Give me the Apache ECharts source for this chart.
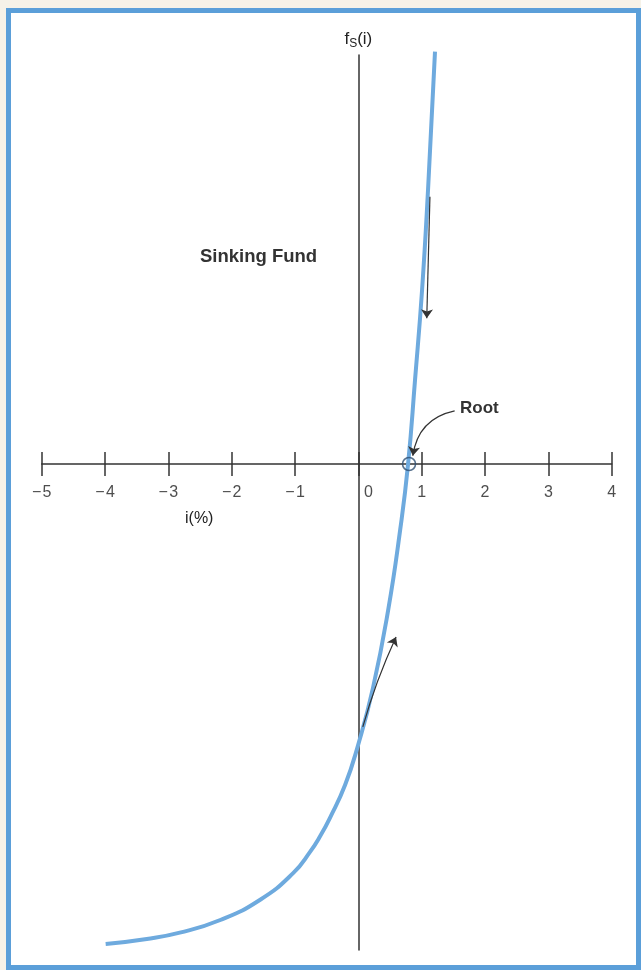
<!DOCTYPE html>
<html>
<head>
<meta charset="utf-8">
<script src="https://cdn.jsdelivr.net/npm/echarts@6/dist/echarts.min.js"></script>
<style>
  html, body { margin: 0; padding: 0; width: 641px; height: 970px; background: #f6f2e8; overflow: hidden; }
  #frame { position: absolute; left: 6px; top: 8px; width: 625px; height: 952px; border: 5px solid #5b9fd9; background: #ffffff; }
  #chart { position: absolute; left: 0; top: 0; width: 641px; height: 970px; }
</style>
</head>
<body>
<div id="frame"></div>
<div id="chart"></div>
<script>
// Sinking fund curve f_S(i) (i in %, f in arbitrary units)
const iValues = [-3.99, -3.34, -2.82, -2.18, -1.55, -1.03, -0.76, -0.60, -0.45, -0.21, -0.005, 0.23, 0.47, 0.66, 0.785, 0.895, 1.006, 1.10, 1.21];
const fValues = [-7.58, -7.50, -7.40, -7.20, -6.88, -6.46, -6.12, -5.87, -5.59, -5.07, -4.44, -3.54, -2.31, -1.04, 0.00, 1.33, 2.75, 4.33, 6.51];
const xTicks = [-5, -4, -3, -2, -1, 0, 1, 2, 3, 4];
const xTickLabels = ['\u2212\u200A5', '\u2212\u200A4', '\u2212\u200A3', '\u2212\u200A2', '\u2212\u200A1', '0', '1', '2', '3', '4'];
const root = [0.80, 0];
// annotation arrows: [start, end]
const arrowDown = [[1.13, 4.22], [1.08, 2.30]];
const arrowUp = [[0.07, -4.15], [0.595, -2.73]];
const arrowRoot = [[1.52, 0.84], [0.86, 0.13]];

const curve = iValues.map((v, k) => [v, fValues[k]]);
const chart = echarts.init(document.getElementById('chart'), null, { renderer: 'canvas' });
const axisColor = '#333333';
const textColor = '#222222';
const fontFam = '"Liberation Sans", Arial, Helvetica, sans-serif';

chart.setOption({
  animation: false,
  backgroundColor: 'transparent',
  grid: { left: 41.7, right: 29.3, top: 55, bottom: 20, containLabel: false, outerBoundsMode: 'none' },
  xAxis: {
    type: 'value', min: -5, max: 4, interval: 1,
    splitLine: { show: false },
    axisLine: { show: true, onZero: true, lineStyle: { color: axisColor, width: 1.5 } },
    axisTick: { show: false },
    axisLabel: { show: false }
  },
  yAxis: {
    type: 'value', min: -7.674, max: 6.458,
    splitLine: { show: false }, axisTick: { show: false }, axisLabel: { show: false },
    axisLine: { show: true, onZero: true, lineStyle: { color: axisColor, width: 1.5 } },
    name: '{a|f}{b|S}{a|(i)}', nameLocation: 'end', nameGap: 5,
    nameTextStyle: {
      rich: {
        a: { fontSize: 17, color: textColor, fontFamily: fontFam },
        b: { fontSize: 12, color: textColor, fontFamily: fontFam, padding: [9, 0, 0, 0] }
      }
    }
  },
  graphic: [
    { type: 'text', left: 200, top: 247, style: { text: 'Sinking Fund', fontSize: 18.5, fontWeight: 'bold', fill: '#333', fontFamily: fontFam } },
    { type: 'text', left: 185, top: 511, style: { text: 'i(%)', fontSize: 16, fill: textColor, fontFamily: fontFam } },
    { type: 'text', left: 460, top: 400, style: { text: 'Root', fontSize: 17, fontWeight: 'bold', fill: '#333', fontFamily: fontFam } }
  ],
  series: [
    {
      type: 'line', data: curve, smooth: 0.5, showSymbol: false, clip: false,
      lineStyle: { color: '#6eaade', width: 4 }, z: 3,
      markLine: {
        silent: true, symbol: ['none', 'none'], animation: false,
        label: { show: false },
        lineStyle: { color: axisColor, width: 1.5, type: 'solid' },
        data: xTicks.map(v => [{ coord: [v, -0.19] }, { coord: [v, 0.19] }])
      }
    },
    {
      // tick labels placed under each tick of the horizontal axis
      type: 'scatter', symbolSize: 0, silent: true, z: 4,
      data: xTicks.map((v, k) => ({
        value: [v, 0],
        label: { offset: v === 0 ? [10, 0] : [0, 0] }
      })),
      label: {
        show: true, position: 'bottom', distance: 21,
        color: textColor, fontSize: 16, fontFamily: fontFam,
        formatter: p => xTickLabels[p.dataIndex]
      }
    },
    {
      type: 'scatter', data: [root], symbol: 'circle', symbolSize: 13,
      itemStyle: { color: 'rgba(0,0,0,0)', borderColor: '#2e4f72', borderWidth: 1.6 }, z: 5
    },
    {
      type: 'lines', coordinateSystem: 'cartesian2d', z: 6,
      symbol: ['none', 'arrow'], symbolSize: 9,
      lineStyle: { color: '#333', width: 1.2, opacity: 1 },
      data: [
        { coords: arrowDown, lineStyle: { curveness: 0 } },
        { coords: arrowUp, lineStyle: { curveness: 0.04 } },
        { coords: arrowRoot, lineStyle: { curveness: -0.35 } }
      ]
    }
  ]
});
</script>
</body>
</html>
